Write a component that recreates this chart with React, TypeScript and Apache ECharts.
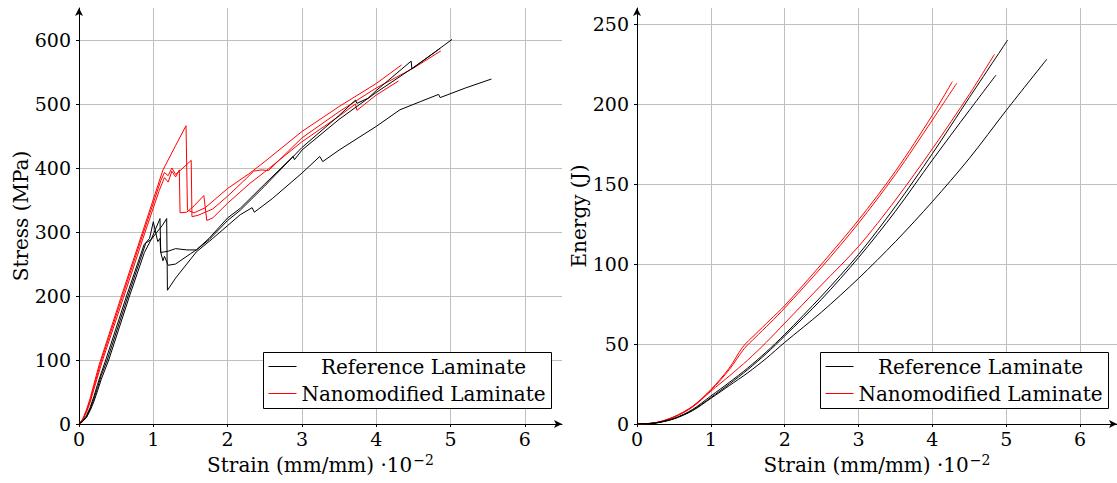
import React, { useEffect, useRef } from "react";
import * as echarts from "echarts";

// ---- Stress–strain curves (strain ·10^-2 mm/mm, stress MPa) ----
const stressRefA: number[][] = [
  [0, 0], [0.05, 5], [0.1, 13], [0.15, 26], [0.2, 43], [0.25, 62], [0.3, 80], [0.36, 100], [0.64, 200],
  [0.875, 280], [0.95, 290], [1.0, 316], [1.03, 300], [1.06, 285], [1.09, 290], [1.1, 268], [1.2, 270],
  [1.3, 274], [1.45, 272], [1.58, 272], [1.75, 290], [2.0, 322], [2.17, 337], [2.5, 375], [2.88, 418],
  [2.9, 413], [3.0, 428], [3.5, 476], [4.0, 518], [4.5, 557], [4.8, 582], [5.02, 601],
];
const stressRefB: number[][] = [
  [0, 0], [0.05, 4], [0.1, 11], [0.15, 23], [0.2, 39], [0.25, 57], [0.3, 76], [0.38, 100], [0.66, 200],
  [0.9, 283], [0.97, 288], [1.09, 321], [1.1, 268], [1.13, 255], [1.15, 262], [1.2, 248], [1.3, 250],
  [1.4, 258], [1.5, 266], [1.58, 272], [1.75, 288], [2.0, 318], [2.17, 334], [2.5, 372], [3.0, 432],
  [3.5, 482], [3.72, 506], [3.74, 501], [3.89, 509], [4.0, 521], [4.47, 567], [4.48, 555], [4.6, 565],
  [4.86, 587],
];
const stressRefC: number[][] = [
  [0, 0], [0.05, 4], [0.1, 10], [0.15, 21], [0.2, 35], [0.25, 52], [0.3, 70], [0.4, 100], [0.68, 200],
  [0.88, 268], [0.97, 288], [1.05, 300], [1.12, 310], [1.18, 321], [1.19, 209], [1.3, 228], [1.45, 250],
  [1.58, 269], [1.8, 290], [2.0, 310], [2.17, 327], [2.33, 338], [2.36, 331], [2.6, 352], [3.0, 392],
  [3.24, 418], [3.28, 410], [3.5, 428], [4.0, 465], [4.32, 491], [4.6, 504], [4.84, 515], [4.86, 510],
  [5.2, 525], [5.55, 539],
];
const stressNanoA: number[][] = [
  [0, 0], [0.05, 8], [0.1, 22], [0.15, 40], [0.2, 62], [0.27, 92], [0.56, 196], [0.85, 298], [1.13, 397],
  [1.3, 435], [1.44, 466], [1.46, 334], [1.55, 330], [1.7, 338], [2.0, 368], [2.3, 392], [2.5, 410],
  [3.0, 457], [3.5, 496], [4.0, 532], [4.34, 561],
];
const stressNanoB: number[][] = [
  [0, 0], [0.05, 7], [0.1, 20], [0.15, 37], [0.2, 58], [0.29, 95], [0.58, 198], [0.87, 300], [1.1, 380],
  [1.15, 393], [1.2, 388], [1.25, 400], [1.3, 390], [1.4, 400], [1.51, 412], [1.52, 324], [1.6, 326],
  [1.8, 336], [2.0, 356], [2.2, 378], [2.35, 395], [2.45, 397], [2.55, 396], [3.0, 447], [3.5, 488],
  [4.0, 525], [4.5, 556], [4.87, 583],
];
const stressNanoC: number[][] = [
  [0, 0], [0.05, 6], [0.1, 18], [0.15, 34], [0.2, 54], [0.31, 97], [0.6, 198], [0.89, 300], [1.08, 365],
  [1.15, 385], [1.2, 378], [1.25, 395], [1.3, 386], [1.35, 397], [1.36, 330], [1.45, 331], [1.55, 341],
  [1.68, 357], [1.72, 318], [1.8, 322], [2.0, 345], [2.3, 376], [2.5, 394], [3.0, 441], [3.5, 481],
  [3.72, 500], [3.74, 490], [4.0, 514], [4.3, 536],
];

// ---- Energy–strain curves (J) ----
const energyRefA: number[][] = [
  [0, 0], [0.25, 0.7], [0.5, 3.5], [0.75, 9], [1.0, 17.5], [1.25, 26], [1.5, 35], [1.75, 45], [2.0, 56],
  [2.5, 80], [3.0, 106], [3.5, 136], [4.0, 169], [4.5, 204], [5.02, 240],
];
const energyRefB: number[][] = [
  [0, 0], [0.25, 0.6], [0.5, 3.3], [0.75, 8.5], [1.0, 16.5], [1.25, 25], [1.5, 34], [1.75, 44], [2.0, 55],
  [2.5, 78], [3.0, 104], [3.5, 133], [4.0, 165], [4.5, 196], [4.86, 218],
];
const energyRefC: number[][] = [
  [0, 0], [0.25, 0.6], [0.5, 3.2], [0.75, 8.3], [1.0, 16], [1.25, 24], [1.5, 32], [1.75, 41], [2.0, 51],
  [2.5, 70], [3.0, 91], [3.5, 114], [4.0, 139], [4.5, 166], [5.0, 196], [5.55, 228],
];
const energyNanoA: number[][] = [
  [0, 0], [0.25, 0.8], [0.5, 4.5], [0.75, 11], [1.0, 21.5], [1.25, 35], [1.43, 48], [1.6, 56], [1.8, 65],
  [2.0, 74], [2.5, 100], [3.0, 127.5], [3.5, 158], [4.0, 193], [4.27, 214],
];
const energyNanoB: number[][] = [
  [0, 0], [0.25, 0.8], [0.5, 4.3], [0.75, 10.5], [1.0, 20.5], [1.25, 30], [1.5, 40], [1.75, 51], [2.0, 63],
  [2.5, 87], [3.0, 111], [3.5, 140], [4.0, 172], [4.5, 206], [4.84, 231],
];
const energyNanoC: number[][] = [
  [0, 0], [0.25, 0.8], [0.5, 4.4], [0.75, 10.8], [1.0, 21], [1.25, 34], [1.45, 47], [1.6, 54], [1.8, 63],
  [2.0, 72.5], [2.5, 98], [3.0, 125.5], [3.5, 156], [4.0, 190], [4.33, 213],
];

const legendLabels = ["Reference Laminate", "Nanomodified Laminate"];
const seriesColors = ["#000000", "#ff0000"];
const xAxisTitle = "Strain (mm/mm) ·10";
const xAxisExp = "−2";
const yTitles = ["Stress (MPa)", "Energy (J)"];
const xMax = 6.5;
const yMaxes = [650, 260];
const yIntervals = [100, 50];

const FONT = "'DejaVu Serif', serif";

function mkX(gi: number) {
  return {
    type: "value",
    gridIndex: gi,
    min: 0,
    max: xMax,
    interval: 1,
    name: `${xAxisTitle}{sup|${xAxisExp}}`,
    nameLocation: "middle",
    nameGap: 28,
    nameTextStyle: {
      fontFamily: FONT,
      fontSize: 20,
      color: "#000",
      rich: { sup: { fontFamily: FONT, fontSize: 14, color: "#000", verticalAlign: "top", padding: [0, 0, 10, 1] } },
    },
    axisLine: { show: true, onZero: false, symbol: ["none", "arrow"], symbolSize: [6, 8], lineStyle: { color: "#000", width: 1 } },
    axisTick: { show: true, length: 3, lineStyle: { color: "#000" } },
    axisLabel: { fontFamily: FONT, fontSize: 19, color: "#000", margin: 5, showMaxLabel: false },
    splitLine: { show: true, showMinLine: false, showMaxLine: false, lineStyle: { color: "#bfbfbf", width: 1 } },
  };
}

function mkY(gi: number) {
  return {
    type: "value",
    gridIndex: gi,
    min: 0,
    max: yMaxes[gi],
    interval: yIntervals[gi],
    name: yTitles[gi],
    nameLocation: "middle",
    nameGap: 45,
    nameTextStyle: { fontFamily: FONT, fontSize: 20, color: "#000" },
    axisLine: { show: true, onZero: false, symbol: ["none", "arrow"], symbolSize: [6, 8], lineStyle: { color: "#000", width: 1 } },
    axisTick: { show: true, length: 3, lineStyle: { color: "#000" } },
    axisLabel: { fontFamily: FONT, fontSize: 19, color: "#000", margin: 8, showMaxLabel: false },
    splitLine: { show: true, showMinLine: false, showMaxLine: false, lineStyle: { color: "#bfbfbf", width: 1 } },
  };
}

function mkSeries(data: number[][], gi: number, colorIdx: number, smooth: boolean) {
  return {
    type: "line",
    name: legendLabels[colorIdx],
    xAxisIndex: gi,
    yAxisIndex: gi,
    data,
    showSymbol: false,
    symbol: "none",
    smooth: smooth ? 0.3 : false,
    lineStyle: { color: seriesColors[colorIdx], width: 1 },
    itemStyle: { color: seriesColors[colorIdx] },
    z: colorIdx === 0 ? 3 : 2,
  };
}

function mkLegend(x0: number) {
  const y0 = 352.5;
  return [
    { type: "rect", shape: { x: x0, y: y0, width: 288, height: 56 }, style: { fill: "#fff", stroke: "#000", lineWidth: 1 }, z: 100 },
    { type: "line", shape: { x1: x0 + 5, y1: y0 + 14, x2: x0 + 33, y2: y0 + 14 }, style: { stroke: seriesColors[0], lineWidth: 1 }, z: 101 },
    { type: "line", shape: { x1: x0 + 5, y1: y0 + 41, x2: x0 + 33, y2: y0 + 41 }, style: { stroke: seriesColors[1], lineWidth: 1 }, z: 101 },
    { type: "text", x: x0 + 160, y: y0 + 14, style: { text: legendLabels[0], font: `20px ${FONT}`, fill: "#000", textAlign: "center", textVerticalAlign: "middle" }, z: 101 },
    { type: "text", x: x0 + 160, y: y0 + 41, style: { text: legendLabels[1], font: `20px ${FONT}`, fill: "#000", textAlign: "center", textVerticalAlign: "middle" }, z: 101 },
  ];
}

export default function App() {
  const ref = useRef<HTMLDivElement>(null);
  useEffect(() => {
    if (!ref.current) return;
    const chart = echarts.init(ref.current, undefined, { renderer: "svg" });
    chart.setOption({
      animation: false,
      backgroundColor: "#fff",
      grid: [
        { left: 79, top: 8, width: 483, height: 416 },
        { left: 637, top: 8, width: 483, height: 416 },
      ],
      xAxis: [mkX(0), mkX(1)],
      yAxis: [mkY(0), mkY(1)],
      series: [
        mkSeries(stressRefA, 0, 0, false),
        mkSeries(stressRefB, 0, 0, false),
        mkSeries(stressRefC, 0, 0, false),
        mkSeries(stressNanoA, 0, 1, false),
        mkSeries(stressNanoB, 0, 1, false),
        mkSeries(stressNanoC, 0, 1, false),
        mkSeries(energyRefA, 1, 0, true),
        mkSeries(energyRefB, 1, 0, true),
        mkSeries(energyRefC, 1, 0, true),
        mkSeries(energyNanoA, 1, 1, true),
        mkSeries(energyNanoB, 1, 1, true),
        mkSeries(energyNanoC, 1, 1, true),
      ],
      graphic: [...mkLegend(263.5), ...mkLegend(820.5)],
    });
    return () => chart.dispose();
  }, []);
  return (
    <div
      ref={ref}
      style={{ position: "fixed", left: 0, top: 0, width: 1117, height: 483, background: "#fff" }}
    />
  );
}
